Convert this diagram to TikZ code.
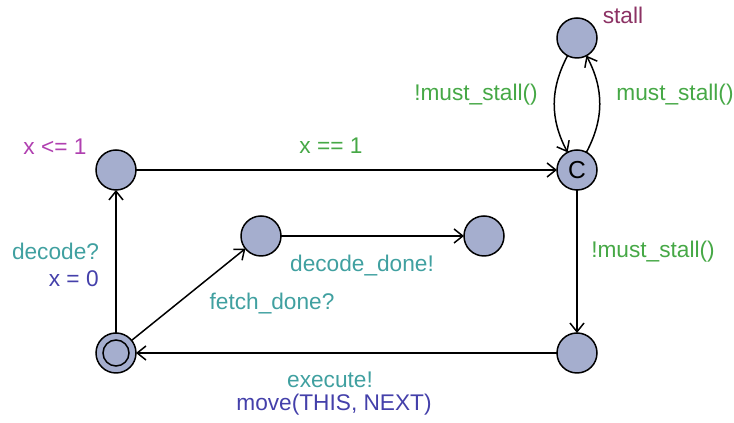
\documentclass[tikz,border=0pt]{standalone}
\usepackage{fontspec}
\setmainfont{Liberation Sans}
\setsansfont{Liberation Sans}
\usepackage{tkz-graph}
\usetikzlibrary{arrows.meta}

\definecolor{locfill}{RGB}{165,174,206}
\definecolor{guardcol}{RGB}{70,168,70}
\definecolor{synccol}{RGB}{64,160,160}
\definecolor{updcol}{RGB}{68,64,170}
\definecolor{invcol}{RGB}{176,64,176}
\definecolor{namecol}{RGB}{140,50,100}

\begin{document}
\begin{tikzpicture}[>={Straight Barb[length=5pt,width=8pt]},
		lbl/.style={inner sep=0pt, font=\fontsize{12.9}{15.5}\selectfont}]

		\useasboundingbox (0,0) rectangle (14.68,8.46);

		\SetGraphUnit{1}

		\GraphInit[vstyle=Classic]
		\tikzset{VertexStyle/.style =
				{shape=circle, draw=black, line width=0.85pt, fill=locfill,
				minimum size = 0.8cm, inner sep=0pt, font=\fontsize{14}{14}\selectfont}
		}

		%committed
		\Vertex[x=11.54,y=5.06,L={C},LabelOut=false]{commit}

		%locations
		\SetVertexNoLabel
		\Vertex[x=11.54,y=7.70]{stall}
		\Vertex[x=2.32,y=5.06]{wait}
		\Vertex[x=2.32,y=1.40]{init}
		\Vertex[x=5.22,y=3.74]{fetch}
		\Vertex[x=9.68,y=3.74]{decode}
		\Vertex[x=11.54,y=1.40]{exec}
		\draw[line width=0.85pt] (init) circle (0.26);

		%edges
		\tikzstyle{EdgeStyle}=[->, color=black, line width=0.85pt]
		\Edge(wait)(commit)
		\Edge(init)(wait)
		\Edge(init)(fetch)
		\Edge(fetch)(decode)
		\Edge(commit)(exec)
		\Edge(exec)(init)
		\Edge[style={out=-118,in=118}](stall)(commit)
		\Edge[style={out=62,in=-62}](commit)(stall)

		%labels
		\node[lbl, namecol] (lstall) at (12.46,8.16) {stall};
		\node[lbl, invcol] (linv) at (1.10,5.52) {x <= 1};
		\node[lbl, guardcol] (ltime) at (6.62,5.54) {x == 1};
		\node[lbl, guardcol] (lnostall) at (9.52,6.56) {!must\_stall()};
		\node[lbl, guardcol] (lmust) at (13.50,6.56) {must\_stall()};
		\node[lbl, guardcol] (lgo) at (13.06,3.42) {!must\_stall()};
		\node[lbl, synccol] (ldecode) at (1.11,3.44) {decode?};
		\node[lbl, updcol, anchor=east] (lreset) at (1.98,2.89) {x = 0};
		\node[lbl, synccol] (lfetch) at (5.44,2.38) {fetch\_done?};
		\node[lbl, synccol] (ldone) at (7.24,3.14) {decode\_done!};
		\node[lbl, synccol] (lexec) at (6.60,0.86) {execute!};
		\node[lbl, updcol] (lmove) at (6.68,0.36) {move(THIS, NEXT)};
	\end{tikzpicture}
\end{document}
